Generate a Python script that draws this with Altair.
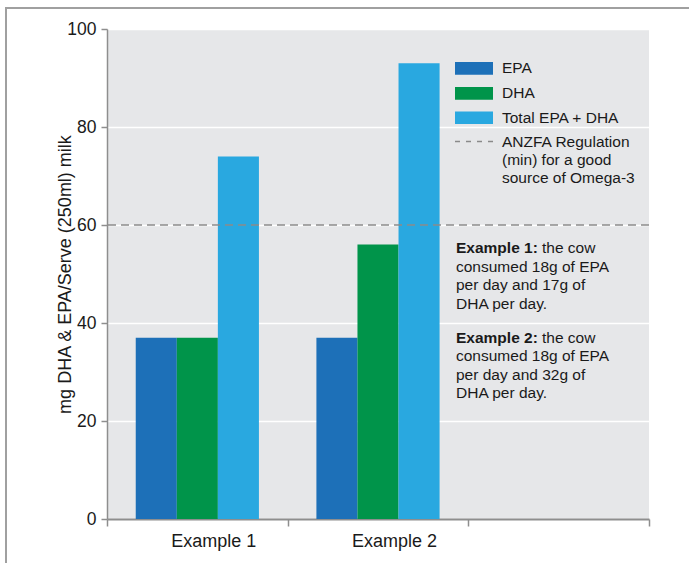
import altair as alt
import pandas as pd

# ---- chart values ----
categories = ["Example 1", "Example 2"]
axis_slots = ["Example 1", "Example 2", " "]
series = ["EPA", "DHA", "Total EPA + DHA"]
epa = [37, 37]
dha = [37, 56]
total = [74, 93]
regulation_min = 60
y_ticks = [0, 20, 40, 60, 80, 100]
colors = ["#1d70b8", "#00944a", "#29a8e0"]
regulation_label = ["ANZFA Regulation", "(min) for a good", "source of Omega-3"]
notes = [
    ("Example 1:", "the cow", ["consumed 18g of EPA", "per day and 17g of", "DHA per day."]),
    ("Example 2:", "the cow", ["consumed 18g of EPA", "per day and 32g of", "DHA per day."]),
]

FONT = "Liberation Sans"
W, H = 542, 490
AXIS_GREY = "#8e8e8e"

rows = []
for i, cat in enumerate(categories):
    for name, vals in zip(series, [epa, dha, total]):
        rows.append({"example": cat, "series": name, "value": vals[i]})
bars_df = pd.DataFrame(rows)

bars = alt.Chart(bars_df).mark_bar().encode(
    x=alt.X(
        "example:N",
        scale=alt.Scale(domain=axis_slots, paddingInner=0, paddingOuter=0),
        axis=alt.Axis(
            title=None,
            labelAngle=0,
            labelFont=FONT,
            labelFontSize=18,
            labelColor="#1a1a1a",
            labelBaseline="alphabetic",
            labelPadding=20,
            labelOffset=16,
            tickBand="extent",
            tickSize=7,
            tickWidth=1.5,
            tickColor=AXIS_GREY,
            domainColor=AXIS_GREY,
            domainWidth=2,
        ),
    ),
    xOffset=alt.XOffset(
        "series:N", scale=alt.Scale(domain=series, paddingOuter=0.7, paddingInner=0)
    ),
    y=alt.Y(
        "value:Q",
        scale=alt.Scale(domain=[0, 100], nice=False),
        axis=alt.Axis(
            values=y_ticks,
            title="mg DHA & EPA/Serve (250ml) milk",
            titleFont=FONT,
            titleFontSize=18,
            titleFontWeight="normal",
            titleColor="#1a1a1a",
            titleAngle=270,
            titleX=-37,
            titleY=H / 2,
            titleAlign="center",
            titleBaseline="alphabetic",
            labelFont=FONT,
            labelFontSize=17.5,
            labelColor="#1a1a1a",
            labelPadding=5,
            tickSize=6,
            tickWidth=1.5,
            tickColor=AXIS_GREY,
            domainColor=AXIS_GREY,
            domainWidth=1.5,
            grid=True,
            gridColor="#ffffff",
            gridWidth=1.5,
        ),
    ),
    color=alt.Color("series:N", scale=alt.Scale(domain=series, range=colors), legend=None),
)

# dashed regulation line across the plot
reg_line = alt.Chart(pd.DataFrame({"v": [regulation_min]})).mark_rule(
    color="#8a8a8a", strokeWidth=1.5, strokeDash=[8, 5]
).encode(y="v:Q")

layers = [bars, reg_line]

# outer frame (top and left edge)
layers.append(
    alt.Chart().mark_rule(color="#a0a0a0", strokeWidth=2).encode(
        x=alt.value(-101), x2=alt.value(W + 60), y=alt.value(-21)
    )
)
layers.append(
    alt.Chart().mark_rule(color="#a0a0a0", strokeWidth=2).encode(
        x=alt.value(-101), y=alt.value(-22), y2=alt.value(H + 60)
    )
)

# legend drawn inside the plot
LX0, LX1, TX = 348, 386, 395
leg_base = [44.3, 69.3, 93.7]
for name, col, base in zip(series, colors, leg_base):
    layers.append(
        alt.Chart().mark_rect(color=col).encode(
            x=alt.value(LX0), x2=alt.value(LX1),
            y=alt.value(base - 11.3), y2=alt.value(base + 1.4),
        )
    )
    layers.append(
        alt.Chart().mark_text(
            font=FONT, fontSize=15.5, align="left", baseline="alphabetic", color="#1a1a1a"
        ).encode(x=alt.value(TX), y=alt.value(base), text=alt.value(name))
    )

layers.append(
    alt.Chart().mark_rule(color="#8a8a8a", strokeWidth=1.5, strokeDash=[5, 6]).encode(
        x=alt.value(LX0), x2=alt.value(LX1), y=alt.value(112.5)
    )
)
reg_base = [117.7, 136.0, 154.3]
for line, base in zip(regulation_label, reg_base):
    layers.append(
        alt.Chart().mark_text(
            font=FONT, fontSize=15.5, align="left", baseline="alphabetic", color="#1a1a1a"
        ).encode(x=alt.value(TX), y=alt.value(base), text=alt.value(line))
    )

# explanatory notes
NX = 349
note_tops = [224.3, 313.7]
LINE = 18.4
for (head, tail, rest), top in zip(notes, note_tops):
    layers.append(
        alt.Chart().mark_text(
            font=FONT, fontSize=15.5, fontWeight="bold", align="left",
            baseline="alphabetic", color="#1a1a1a",
        ).encode(x=alt.value(NX), y=alt.value(top), text=alt.value(head))
    )
    layers.append(
        alt.Chart().mark_text(
            font=FONT, fontSize=15.5, align="left", baseline="alphabetic", color="#1a1a1a"
        ).encode(x=alt.value(NX + 86), y=alt.value(top), text=alt.value(tail))
    )
    for k, line in enumerate(rest, start=1):
        layers.append(
            alt.Chart().mark_text(
                font=FONT, fontSize=15.5, align="left", baseline="alphabetic", color="#1a1a1a"
            ).encode(x=alt.value(NX), y=alt.value(top + k * LINE), text=alt.value(line))
        )

chart = (
    alt.layer(*layers)
    .properties(
        width=W,
        height=H,
        autosize=alt.AutoSizeParams(type="none"),
        padding={"left": 107, "top": 29, "right": 40, "bottom": 44},
        background="#ffffff",
    )
    .configure_view(fill="#e6e7e9", strokeWidth=0)
)

chart.save("out.html", embed_options={"renderer": "svg", "actions": False})
